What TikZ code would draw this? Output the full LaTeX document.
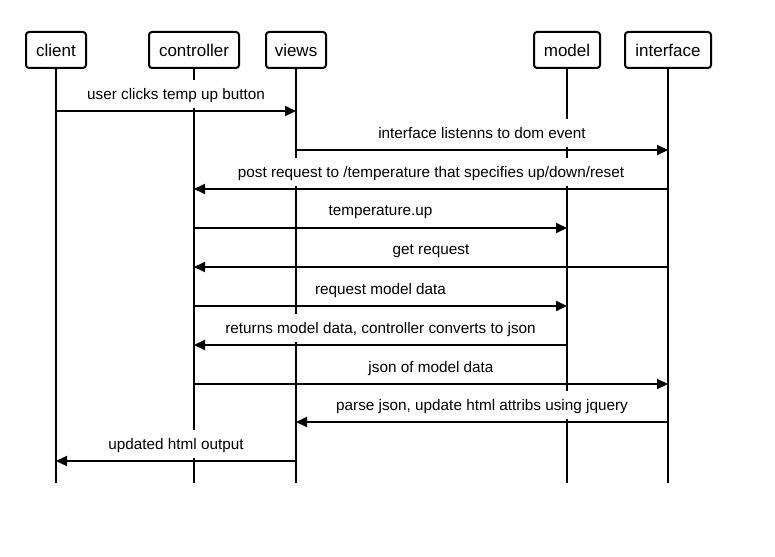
\documentclass[tikz,border=0pt]{standalone}
\usepackage{fontspec}
\setmainfont{Liberation Sans}
\usetikzlibrary{arrows.meta}
\begin{document}
\begin{tikzpicture}[x=1pt,y=-1pt,
  actor/.style={draw, line width=2pt, rounded corners=3pt, minimum height=36pt, inner sep=0pt, font=\fontsize{17}{20}\selectfont},
  life/.style={line width=2pt},
  msg/.style={line width=2pt, -{Triangle[length=11pt,width=10pt]}},
  lbl/.style={fill=white, inner sep=0pt, minimum height=28pt, text depth=0pt, font=\fontsize{15.3}{18}\selectfont}]
\useasboundingbox (0,0) rectangle (775,556);
\node[actor, minimum width=60pt] (client) at (56,50) {client};
\node[actor, minimum width=90pt] (controller) at (194,50) {controller};
\node[actor, minimum width=60pt] (views) at (296,50) {views};
\node[actor, minimum width=66pt] (model) at (567,50) {model};
\node[actor, minimum width=86pt] (interface) at (668,50) {interface};
\coordinate (bot) at (0,483);
\foreach \n in {client,controller,views,model,interface}
  \draw[life] (\n.south) -- (\n.south |- bot);
\foreach \i/\y in {1/111,2/150,3/189,4/228,5/267,6/306,7/345,8/384,9/422,10/461}
  \coordinate (m\i) at (0,\y);
% labels
\newcommand{\msglabel}[4]{%
  \path (#1.south |- #3) -- node[lbl, yshift=17pt] (l#3) {#4} (#2.south |- #3);}
\msglabel{client}{views}{m1}{user clicks temp up button}
\msglabel{views}{interface}{m2}{interface listenns to dom event}
\msglabel{interface}{controller}{m3}{post request to /temperature that specifies up/down/reset}
\msglabel{controller}{model}{m4}{temperature.up}
\msglabel{interface}{controller}{m5}{get request}
\msglabel{controller}{model}{m6}{request model data}
\msglabel{model}{controller}{m7}{returns model data, controller converts to json}
\msglabel{controller}{interface}{m8}{json of model data}
\msglabel{interface}{views}{m9}{parse json, update html attribs using jquery}
\msglabel{views}{client}{m10}{updated html output}
% arrows
\draw[msg] (client.south |- m1) -- (views.south |- m1);
\draw[msg] (views.south |- m2) -- (interface.south |- m2);
\draw[msg] (interface.south |- m3) -- (controller.south |- m3);
\draw[msg] (controller.south |- m4) -- (model.south |- m4);
\draw[msg] (interface.south |- m5) -- (controller.south |- m5);
\draw[msg] (controller.south |- m6) -- (model.south |- m6);
\draw[msg] (model.south |- m7) -- (controller.south |- m7);
\draw[msg] (controller.south |- m8) -- (interface.south |- m8);
\draw[msg] (interface.south |- m9) -- (views.south |- m9);
\draw[msg] (views.south |- m10) -- (client.south |- m10);
\end{tikzpicture}
\end{document}
